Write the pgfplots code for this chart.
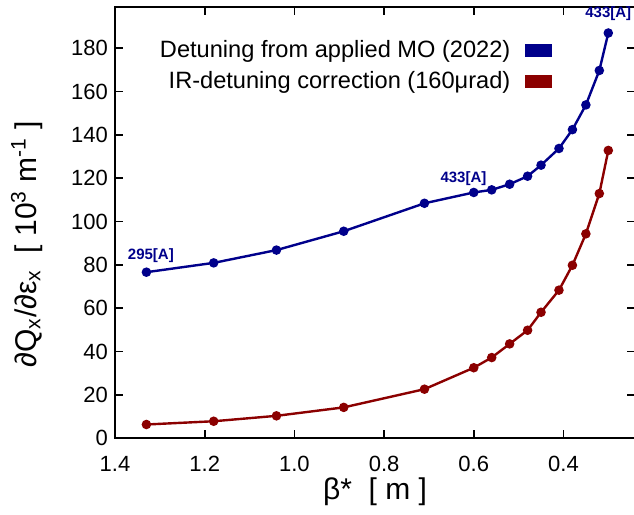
\documentclass[border=0pt]{standalone}
\usepackage{fontspec}
\setmainfont{Liberation Sans}
\usepackage{pgfplots}
\pgfplotsset{compat=1.18}
\usetikzlibrary{calc}
\definecolor{dblue}{RGB}{0,0,139}
\definecolor{dred}{RGB}{139,0,0}
\begin{document}
\begin{tikzpicture}
\begin{axis}[
  name=ax,
  width=260pt, height=215.5pt, scale only axis,
  x dir=reverse,
  xmin=0.24, xmax=1.4, ymin=0, ymax=199,
  xtick={0.4,0.6,0.8,1.0,1.2,1.4},
  ytick={0,20,40,60,80,100,120,140,160,180},
  xticklabel style={yshift=-5.5pt, /pgf/number format/fixed, /pgf/number format/fixed zerofill, /pgf/number format/precision=1},
  /pgf/number format/assume math mode=true,
  xtick pos=both, ytick pos=both,
  xticklabel pos=lower, yticklabel pos=left,
  tick align=inside,
  major tick length=4pt,
  axis line style={line width=1pt},
  every tick/.style={black, line width=0.8pt},
  tick label style={font=\fontsize{11}{13}\selectfont},
  label style={font=\fontsize{15}{18}\selectfont},
  xlabel={β*\ \ [ m ]},
  ylabel={∂Q\textsubscript{x}/∂ε\textsubscript{x}\ \ [ 10\textsuperscript{3} m\textsuperscript{-1} ]},
  xlabel style={at={(axis description cs:0.5,-0.125)}, anchor=center},
  ylabel style={at={(axis description cs:-0.17,0.45)}, anchor=center},
  legend style={at={(axis description cs:0.84,0.933)}, anchor=north east, draw=none, fill=none,
    font=\fontsize{11.8}{13}\selectfont, row sep=1.5pt, inner sep=0pt},
  legend cell align=right,
  legend plot pos=right,
  legend image code/.code={\path (0pt,0pt); \fill[draw=none] (4.5pt,-3.2pt) rectangle (18pt,3.2pt);},
]
\addplot[dblue, line width=1.2pt, mark=*, mark size=1.75pt] coordinates {
(1.33,76.6) (1.18,80.9) (1.04,86.8) (0.89,95.5) (0.71,108.4) (0.60,113.4)
(0.56,114.6) (0.52,117.2) (0.48,120.9) (0.45,126.0) (0.41,133.7) (0.38,142.4)
(0.35,153.8) (0.32,169.7) (0.30,187.0)};
\addlegendentry{Detuning from applied MO (2022)}
\addplot[dred, line width=1.2pt, mark=*, mark size=1.75pt] coordinates {
(1.33,6.3) (1.18,7.8) (1.04,10.3) (0.89,14.2) (0.71,22.6) (0.60,32.5)
(0.56,37.2) (0.52,43.5) (0.48,49.8) (0.45,58.1) (0.41,68.3) (0.38,79.8)
(0.35,94.3) (0.32,112.9) (0.30,132.8)};
\addlegendentry{IR-detuning correction (160μrad)}
\node[font=\bfseries\fontsize{7.5}{9}\selectfont, text=dblue] at (axis cs:1.32,84.4) {295[A]};
\node[font=\bfseries\fontsize{7.5}{9}\selectfont, text=dblue] at (axis cs:0.623,120) {433[A]};
\node[font=\bfseries\fontsize{7.5}{9}\selectfont, text=dblue] at (axis cs:0.30,196) {433[A]};
\end{axis}
\pgfresetboundingbox
\path ($(ax.south west)+(-57.5pt,-38pt)$) rectangle ($(ax.north east)+(-0.6pt,3.5pt)$);
\end{tikzpicture}
\end{document}
